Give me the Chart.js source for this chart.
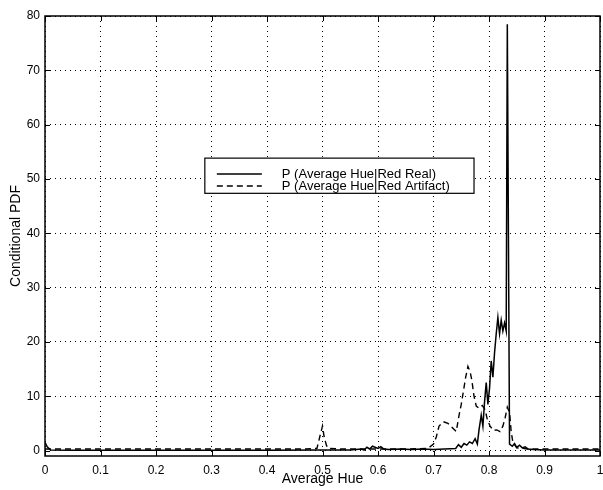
<!DOCTYPE html>
<html>
<head>
<meta charset="utf-8">
<script src="https://cdn.jsdelivr.net/npm/chart.js@4.4.1/dist/chart.umd.min.js"></script>
<style>
  html, body { margin: 0; padding: 0; background: #fff; }
</style>
</head>
<body>
<canvas id="canvas" width="603" height="490"></canvas>
<script>
// axis ticks
var xTicks = [0, 0.1, 0.2, 0.3, 0.4, 0.5, 0.6, 0.7, 0.8, 0.9, 1];
var yTicks = [0, 10, 20, 30, 40, 50, 60, 70, 80];

// P(Average Hue | Red Real)
var hueReal = [0, 0.004, 0.01, 0.05, 0.1, 0.2, 0.3, 0.4, 0.5, 0.55,
               0.57, 0.575, 0.58, 0.585, 0.59, 0.6, 0.605, 0.61, 0.62, 0.64,
               0.66, 0.68, 0.7, 0.72, 0.74, 0.745, 0.75, 0.755, 0.76, 0.765,
               0.77, 0.775, 0.779, 0.782, 0.786, 0.789, 0.792, 0.795, 0.798, 0.801,
               0.804, 0.807, 0.81, 0.813, 0.816, 0.819, 0.822, 0.825, 0.828, 0.831,
               0.833, 0.837, 0.842, 0.846, 0.85, 0.855, 0.86, 0.865, 0.87, 0.88,
               0.9, 0.95, 1.0];
var pdfReal = [1.5, 0.7, 0.1, 0.05, 0.05, 0.05, 0.05, 0.05, 0.1, 0.1,
               0.3, 0.1, 0.6, 0.3, 0.8, 0.4, 0.7, 0.3, 0.2, 0.3,
               0.2, 0.3, 0.2, 0.3, 0.4, 1.1, 0.6, 1.3, 1.0, 1.6,
               1.3, 2.2, 1.2, 3.8, 6.5, 4.5, 9.0, 12.5, 8.5, 11.5,
               16.5, 13.5, 18.0, 21.5, 24.5, 21.5, 24.0, 22.0, 23.5, 22.0,
               78.5, 1.2, 0.8, 1.3, 0.6, 1.0, 0.5, 0.7, 0.3, 0.2,
               0.1, 0.1, 0.1];

// P(Average Hue | Red Artifact)
var hueArtifact = [0, 0.1, 0.2, 0.3, 0.4, 0.47, 0.49, 0.495, 0.5, 0.503,
                   0.507, 0.51, 0.53, 0.6, 0.65, 0.69, 0.7, 0.705, 0.71, 0.718,
                   0.726, 0.734, 0.741, 0.746, 0.75, 0.754, 0.758, 0.762, 0.766, 0.769,
                   0.773, 0.777, 0.782, 0.788, 0.793, 0.797, 0.802, 0.808, 0.814, 0.82,
                   0.825, 0.829, 0.833, 0.837, 0.84, 0.843, 0.85, 0.87, 0.9, 0.95,
                   1.0];
var pdfArtifact = [0.3, 0.3, 0.3, 0.3, 0.3, 0.3, 0.4, 2.5, 4.5, 2.5,
                   1.0, 0.4, 0.3, 0.3, 0.3, 0.4, 1.2, 2.5, 4.5, 5.3,
                   5.0, 4.2, 3.5, 6.5, 8.5, 11.0, 13.5, 15.5, 14.5, 13.0,
                   10.0, 8.2, 7.8, 8.3, 7.5, 5.7, 4.5, 3.7, 3.8, 3.5,
                   4.5, 6.0, 8.0, 7.0, 3.5, 1.5, 0.5, 0.3, 0.3, 0.3,
                   0.3];

var labelReal = 'P (Average Hue|Red Real)';
var labelArtifact = 'P (Average Hue|Red Artifact)';

function pairs(xs, ys) {
  return xs.map(function(x, i) { return { x: x, y: ys[i] }; });
}

var FONT = "'Liberation Sans', Arial, sans-serif";

// box round the plot plus small inward ticks, matlab style
var framePlugin = {
  id: 'frame',
  afterDatasetsDraw: function(chart) {
    var ctx = chart.ctx, a = chart.chartArea;
    var xs = chart.scales.x, ys = chart.scales.y;
    ctx.save();
    ctx.strokeStyle = '#000';
    ctx.lineWidth = 1;
    ctx.setLineDash([]);
    ctx.beginPath();
    xTicks.forEach(function(v) {
      var px = Math.round(xs.getPixelForValue(v)) + 0.5;
      ctx.moveTo(px, a.bottom); ctx.lineTo(px, a.bottom - 5);
      ctx.moveTo(px, a.top); ctx.lineTo(px, a.top + 5);
    });
    yTicks.forEach(function(v) {
      var py = Math.round(ys.getPixelForValue(v)) + 0.5;
      ctx.moveTo(a.left, py); ctx.lineTo(a.left + 5, py);
      ctx.moveTo(a.right, py); ctx.lineTo(a.right - 5, py);
    });
    ctx.stroke();
    ctx.lineWidth = 1.5;
    ctx.strokeRect(a.left, a.top, a.right - a.left, a.bottom - a.top);
    ctx.restore();
  }
};

// legend box inside the plot
var legendPlugin = {
  id: 'boxLegend',
  afterDraw: function(chart) {
    var ctx = chart.ctx, a = chart.chartArea;
    var w = a.right - a.left, h = a.bottom - a.top;
    var bx = a.left + w * 0.288, by = a.top + h * 0.323;
    var bw = w * 0.485, bh = h * 0.08;
    ctx.save();
    ctx.fillStyle = '#fff';
    ctx.fillRect(bx, by, bw, bh);
    ctx.strokeStyle = '#000';
    ctx.lineWidth = 1.2;
    ctx.strokeRect(bx, by, bw, bh);
    ctx.font = '13px ' + FONT;
    ctx.textBaseline = 'middle';
    ctx.fillStyle = '#000';
    chart.data.datasets.forEach(function(ds, i) {
      var ly = by + bh * (i === 0 ? 0.45 : 0.79);
      ctx.beginPath();
      ctx.lineWidth = 1.5;
      ctx.setLineDash(ds.borderDash || []);
      ctx.moveTo(bx + 12, ly);
      ctx.lineTo(bx + 57, ly);
      ctx.stroke();
      ctx.setLineDash([]);
      ctx.fillText(ds.label, bx + 77, ly);
    });
    ctx.restore();
  }
};

var config = {
  type: 'line',
  data: {
    datasets: [{
      label: labelReal,
      data: pairs(hueReal, pdfReal),
      borderColor: '#000',
      borderWidth: 1.5,
      pointRadius: 0,
      tension: 0,
      fill: false
    }, {
      label: labelArtifact,
      data: pairs(hueArtifact, pdfArtifact),
      borderColor: '#000',
      borderWidth: 1.4,
      borderDash: [6, 4],
      pointRadius: 0,
      tension: 0,
      fill: false
    }]
  },
  options: {
    responsive: false,
    animation: false,
    devicePixelRatio: 1,
    layout: { padding: { left: 0, right: 3, top: 16, bottom: 0 } },
    plugins: {
      legend: { display: false },
      tooltip: { enabled: false }
    },
    scales: {
      x: {
        type: 'linear',
        min: 0,
        max: 1,
        afterBuildTicks: function(s) { s.ticks = xTicks.map(function(v) { return { value: v }; }); },
        afterFit: function(s) { s.height = 34; s.paddingLeft = 0; s.paddingRight = 0; },
        grid: { color: '#000', lineWidth: 1, drawTicks: false },
        border: { display: false, dash: [1, 4] },
        ticks: {
          color: '#000', padding: 7, maxRotation: 0, font: { family: FONT, size: 12 },
          callback: function(v) { return String(Math.round(v * 10) / 10); }
        },
        title: { display: true, text: 'Average Hue', color: '#000', padding: { top: 0, bottom: 2 }, font: { family: FONT, size: 14 } }
      },
      y: {
        type: 'linear',
        min: -1,
        max: 80,
        afterBuildTicks: function(s) { s.ticks = yTicks.map(function(v) { return { value: v }; }); },
        afterFit: function(s) { s.width = 45; },
        grid: { color: '#000', lineWidth: 1, drawTicks: false },
        border: { display: false, dash: [1, 4] },
        ticks: { color: '#000', padding: 5, font: { family: FONT, size: 12 } },
        title: { display: true, text: 'Conditional PDF', color: '#000', padding: { top: 8, bottom: 0 }, font: { family: FONT, size: 14 } }
      }
    }
  },
  plugins: [framePlugin, legendPlugin]
};

window.onload = function() {
  window.myChart = new Chart(document.getElementById('canvas'), config);
};
</script>
</body>
</html>
